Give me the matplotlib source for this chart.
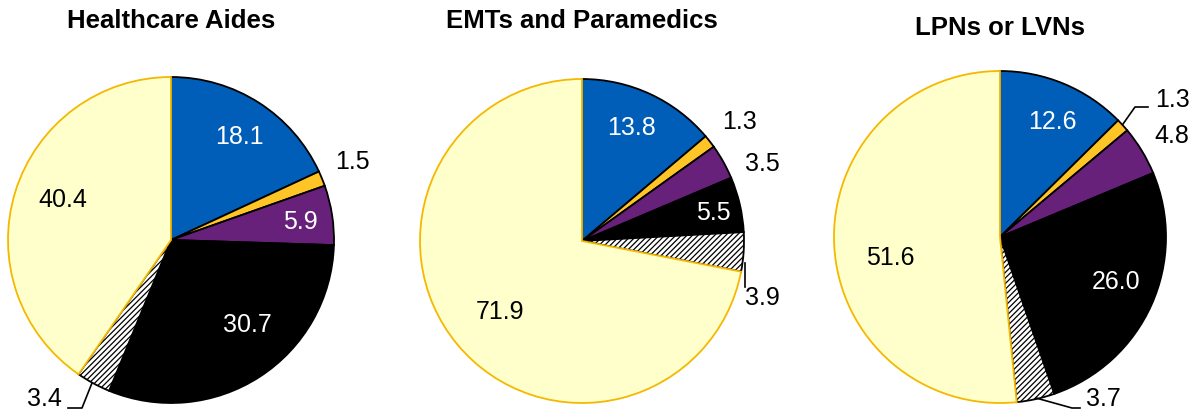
import numpy as np
import matplotlib
matplotlib.use('Agg')
import matplotlib.pyplot as plt

plt.rcParams['font.family'] = ['Liberation Sans', 'DejaVu Sans']
plt.rcParams['hatch.linewidth'] = 0.9

# data
titles = ['Healthcare Aides', 'EMTs and Paramedics', 'LPNs or LVNs']
aides = [18.1, 1.5, 5.9, 30.7, 3.4, 40.4]
emts = [13.8, 1.3, 3.5, 5.5, 3.9, 71.9]
lpns = [12.6, 1.3, 4.8, 26.0, 3.7, 51.6]
all_values = [aides, emts, lpns]

colors = ['#005EB8', '#FFC425', '#68217A', '#000000', '#FFFFFF', '#FFFFCC']
edges = ['black', 'black', 'black', 'black', 'black', '#F5B800']
hatches = [None, None, None, None, '//////', None]
text_colors = ['white', 'black', 'white', 'white', 'black', 'black']

# layout (pixels, y measured from top)
W, H = 1204, 416
centers = [(171, 240), (582, 241), (1000, 237)]
radii = [163, 162, 166]
title_y = [21, 21, 28]
# per-slice label placement: (distance as fraction of radius, angle shift deg), None = leader label
label_pos = [
    [(0.76, -1), (1.21, 1), (0.80, -1), (0.70, 9), None, (0.71, -3)],
    [(0.76, 1), (1.22, -1), (1.21, -6), (0.83, -1), None, (0.67, 1)],
    [(0.76, -2), None, (1.20, -1), (0.75, 3), None, (0.67, 8)],
]
# leader lines: (pie, slice, points in px, label xy, ha)
leaders = [
    (0, 4, [(92, 383), (82, 408), (68, 408)], (62, 399), 'right'),
    (1, 4, [(745, 263), (745, 287)], (745, 298), 'left'),
    (2, 1, [(1123, 124), (1135, 107), (1148, 107)], (1155, 100), 'left'),
    (2, 4, [(1036, 398), (1072, 408), (1080, 408)], (1086, 399), 'left'),
]

fig = plt.figure(figsize=(W / 100, H / 100), dpi=100)
ax = fig.add_axes([0, 0, 1, 1])
ax.set_xlim(0, W)
ax.set_ylim(0, H)
ax.set_aspect('equal')
ax.axis('off')

for i, vals in enumerate(all_values):
    cx, cy = centers[i]
    r = radii[i]
    wedges, _ = ax.pie(vals, colors=colors, startangle=90, counterclock=False,
                       center=(cx, H - cy), radius=r, frame=True,
                       wedgeprops=dict(linewidth=1.3))
    for j, w in enumerate(wedges):
        w.set_edgecolor(edges[j])
        if hatches[j]:
            w.set_hatch(hatches[j])
    ax.text(cx, H - title_y[i], titles[i], ha='center', va='center',
            fontsize=18.5, fontweight='bold')

    total = sum(vals)
    cum = np.cumsum([0] + vals)
    for j, v in enumerate(vals):
        lp = label_pos[i][j]
        if lp is None:
            continue
        mid = 90 - (cum[j] + v / 2) / total * 360 + lp[1]
        d = lp[0] * r
        x = cx + d * np.cos(np.radians(mid))
        y = (H - cy) + d * np.sin(np.radians(mid))
        col = text_colors[j] if lp[0] < 1 else 'black'
        ax.text(x, y, f'{v:.1f}', ha='center', va='center', fontsize=18, color=col)

for pi, sj, pts, lxy, ha in leaders:
    xs = [p[0] for p in pts]
    ys = [H - p[1] for p in pts]
    ax.plot(xs, ys, color='black', linewidth=1.2)
    ax.text(lxy[0], H - lxy[1], f'{all_values[pi][sj]:.1f}', ha=ha, va='center', fontsize=18)

ax.set_xlim(0, W)
ax.set_ylim(0, H)
plt.savefig('out.png', dpi=100)
